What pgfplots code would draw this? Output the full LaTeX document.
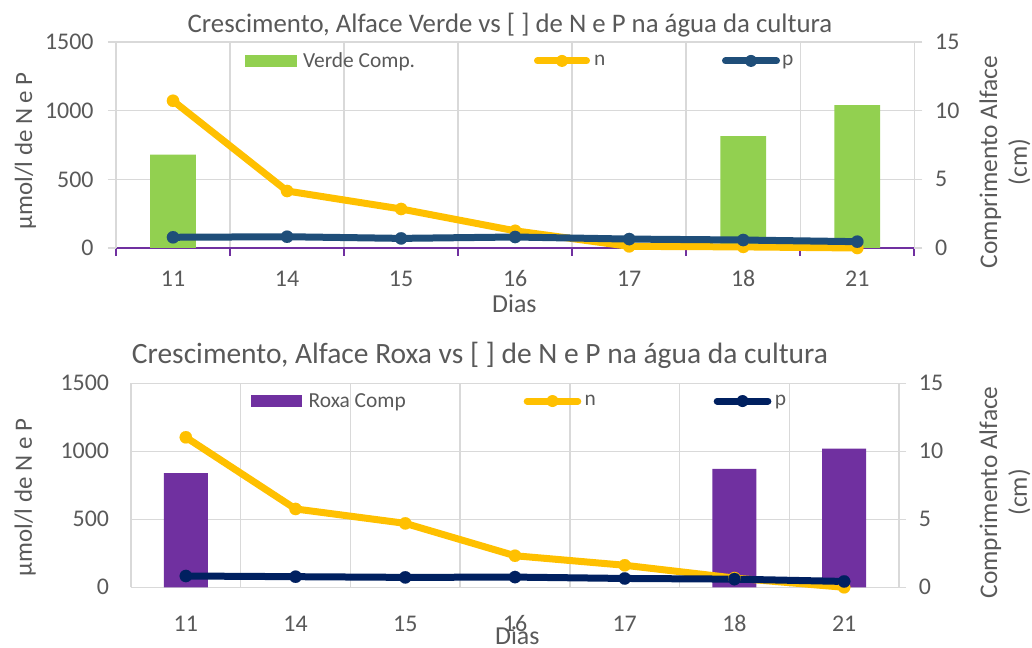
\documentclass[border=0pt]{standalone}
\usepackage{pgfplots}
\usepackage{pgfplotstable}
\pgfplotsset{compat=1.18}
\usepackage{fontspec}
\setmainfont{Carlito}

\definecolor{txt}{HTML}{595959}
\definecolor{gridc}{HTML}{D9D9D9}
\definecolor{verde}{HTML}{92D050}
\definecolor{roxa}{HTML}{7030A0}
\definecolor{ncol}{HTML}{FFC000}
\definecolor{pverde}{HTML}{1F4E79}
\definecolor{proxa}{HTML}{002060}

\newcommand\fs[1]{\fontsize{#1}{#1}\selectfont}

% N and P in the water, and lettuce length, per day
\pgfplotstableread{
x n p
0 1072 78
1 415 82
2 284 70
3 125 80
4 12 65
5 8 58
6 0 46
}\verdeNP
\pgfplotstableread{
x comp
0 6.8
5 8.15
6 10.4
}\verdeComp
\pgfplotstableread{
x n p
0 1103 83
1 576 78
2 470 73
3 232 75
4 162 65
5 68 60
6 0 43
}\roxaNP
\pgfplotstableread{
x comp
0 8.4
5 8.7
6 10.2
}\roxaComp

\pgfplotsset{
  panel/.style={
    scale only axis, anchor=south west,
    xmin=-0.5, xmax=6.5,
    /pgf/number format/assume math mode=true,
    /pgf/number format/1000 sep={},
    tick label style={text=txt, font=\fs{24}},
    tick align=outside,
    clip=false,
  },
  nline/.style={color=ncol, line width=7bp, line cap=round, line join=round,
    mark=*, mark size=6.2bp, mark options={solid, line width=0.1bp, fill=ncol, draw=ncol}},
  pline/.style={color=#1, line width=7bp, line cap=round, line join=round,
    mark=*, mark size=6.2bp, mark options={solid, line width=0.1bp, fill=#1, draw=#1}},
  % legend key: colour #1, key width #2, marker at #3, line end at #4
  linekey/.style n args={4}{legend image code/.code={%
    \path[draw=none, fill=none] (0bp,-6bp) rectangle (#2,6bp);
    \draw[draw=#1, fill=none, line width=7bp, line cap=round] (3.5bp,0bp) -- (#4,0bp);
    \fill[fill=#1, draw=none] (#3,0bp) circle[radius=6bp];}},
  barkey/.style n args={3}{legend image code/.code={%
    \fill[fill=#1, draw=none] (0bp,-#3) rectangle (#2,#3);}},
}

\begin{document}
\begin{tikzpicture}
\useasboundingbox (0,0) rectangle (1032bp,648bp);

% ---------- Alface Verde: bars on the right axis ----------
\begin{axis}[panel,
  at={(116bp,400bp)}, width=798.3bp, height=206bp,
  ymin=0, ymax=15, ytick={0,5,10,15},
  axis x line*=bottom, axis y line*=right,
  x axis line style={roxa, line width=2bp},
  y axis line style={gridc, line width=1.5bp},
  xtick={0,...,6}, xticklabels={11,14,15,16,17,18,21},
  major x tick style={draw=none},
  minor xtick={-0.5,0.5,...,6.5},
  minor x tick style={roxa, line width=2bp},
  minor tick length=8bp, major tick length=8bp,
  major y tick style={gridc, line width=1.5bp},
  ymajorgrids, xminorgrids,
  major grid style={gridc, line width=1.5bp},
  minor grid style={gridc, line width=1.5bp},
  xticklabel style={anchor=base, inner sep=0pt, yshift=-30.7bp},
  yticklabel style={anchor=west, inner sep=0pt, xshift=12.7bp},
  xlabel={Dias},
  every axis x label/.style={at={(axis description cs:0.499,-0.3107)}, anchor=base, inner sep=0pt, text=txt, font=\fs{26}},
  ylabel={Comprimento Alface\\(cm)},
  every axis y label/.style={at={(axis description cs:1.1136,0.417)}, rotate=90, anchor=center, align=center, inner sep=0pt, text=txt, font=\fontsize{25.5}{30}\selectfont},
  ybar, bar width=0.4,
]
\addplot[fill=verde, draw=none] table[x=x, y=comp] {\verdeComp};
\end{axis}

% ---------- Alface Verde: N and P on the left axis ----------
\begin{axis}[panel,
  at={(116bp,400bp)}, width=798.3bp, height=206bp,
  ymin=0, ymax=1500, ytick={0,500,1000,1500},
  axis y line*=left, axis x line=none,
  y axis line style={gridc, line width=1.5bp},
  major y tick style={gridc, line width=1.5bp}, major tick length=8bp,
  yticklabel style={anchor=east, inner sep=0pt, xshift=-14.3bp},
  ylabel={µmol/l de N e P},
  every axis y label/.style={at={(axis description cs:-0.105,0.472)}, rotate=90, anchor=base, inner sep=0pt, text=txt, font=\fs{25}},
  title={Crescimento, Alface Verde vs [ ] de N e P na água da cultura},
  every axis title/.style={at={(axis description cs:0.4935,1.0437)}, anchor=base, inner sep=0pt, text=txt, font=\fs{26.9}},
  legend columns=3, legend cell align=left,
  legend style={at={(axis description cs:0.1616,0.908)}, anchor=west, draw=none, fill=none,
    inner sep=0pt, outer sep=0pt, column sep=0pt, row sep=0pt,
    nodes={inner sep=0pt, text=txt, font=\fs{21.5}}},
]
\addlegendimage{barkey={verde}{52bp}{6bp}}
\addlegendentry{\hspace{6bp}\makebox[231bp][l]{Verde Comp.}}
\addplot[nline, linekey={ncol}{56bp}{28bp}{52.5bp}] table[x=x, y=n] {\verdeNP};
\addlegendentry{\hspace{4bp}\makebox[128bp][l]{n}}
\addplot[pline=pverde, linekey={pverde}{58bp}{29bp}{54.5bp}] table[x=x, y=p] {\verdeNP};
\addlegendentry{\hspace{2bp}p}
\end{axis}

% ---------- Alface Roxa: bars on the right axis ----------
\begin{axis}[panel,
  at={(131bp,60.7bp)}, width=768bp, height=204bp,
  ymin=0, ymax=15, ytick={0,5,10,15},
  axis x line*=bottom, axis y line*=right,
  x axis line style={gridc, line width=1.5bp},
  y axis line style={gridc, line width=1.5bp},
  xtick={0,...,6}, xticklabels={11,14,15,16,17,18,21},
  major x tick style={draw=none},
  minor xtick={-0.5,0.5,...,6.5},
  minor x tick style={draw=none},
  minor tick length=0bp, major tick length=7bp,
  major y tick style={gridc, line width=1.5bp},
  ymajorgrids, xminorgrids,
  major grid style={gridc, line width=1.5bp},
  minor grid style={gridc, line width=1.5bp},
  xticklabel style={anchor=base, inner sep=0pt, yshift=-37.4bp},
  yticklabel style={anchor=west, inner sep=0pt, xshift=12.7bp},
  xlabel={Dias},
  every axis x label/.style={at={(axis description cs:0.503,-0.2828)}, anchor=base, inner sep=0pt, text=txt, font=\fs{26}},
  ylabel={Comprimento Alface\\(cm)},
  every axis y label/.style={at={(axis description cs:1.138,0.465)}, rotate=90, anchor=center, align=center, inner sep=0pt, text=txt, font=\fontsize{25.5}{30}\selectfont},
  ybar, bar width=0.4,
]
\addplot[fill=roxa, draw=none] table[x=x, y=comp] {\roxaComp};
\end{axis}

% ---------- Alface Roxa: N and P on the left axis ----------
\begin{axis}[panel,
  at={(131bp,60.7bp)}, width=768bp, height=204bp,
  ymin=0, ymax=1500, ytick={0,500,1000,1500},
  axis y line*=left, axis x line=none,
  y axis line style={gridc, line width=1.5bp},
  major y tick style={draw=none}, major tick length=0bp,
  yticklabel style={anchor=east, inner sep=0pt, xshift=-21.7bp},
  ylabel={µmol/l de N e P},
  every axis y label/.style={at={(axis description cs:-0.129,0.44)}, rotate=90, anchor=base, inner sep=0pt, text=txt, font=\fs{25}},
  title={Crescimento, Alface Roxa vs [ ] de N e P na água da cultura},
  every axis title/.style={at={(axis description cs:0.4544,1.098)}, anchor=base, inner sep=0pt, text=txt, font=\fs{29.6}},
  legend columns=3, legend cell align=left,
  legend style={at={(axis description cs:0.15625,0.913)}, anchor=west, draw=none, fill=none,
    inner sep=0pt, outer sep=0pt, column sep=0pt, row sep=0pt,
    nodes={inner sep=0pt, text=txt, font=\fs{21.5}}},
]
\addlegendimage{barkey={roxa}{51bp}{5.8bp}}
\addlegendentry{\hspace{6.7bp}\makebox[215bp][l]{Roxa Comp}}
\addplot[nline, linekey={ncol}{57.6bp}{28.8bp}{54.1bp}] table[x=x, y=n] {\roxaNP};
\addlegendentry{\hspace{3.4bp}\makebox[129bp][l]{n}}
\addplot[pline=proxa, linekey={proxa}{57.7bp}{28.85bp}{54.2bp}] table[x=x, y=p] {\roxaNP};
\addlegendentry{\hspace{3.4bp}p}
\end{axis}
\end{tikzpicture}
\end{document}
